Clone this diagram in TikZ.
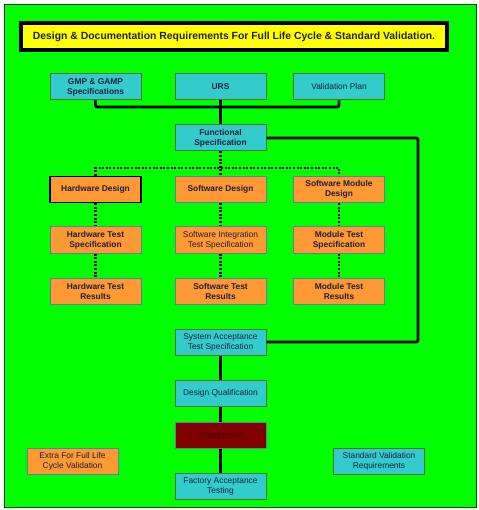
\documentclass[tikz,border=0pt]{standalone}
\usepackage{fontspec}
\setmainfont{Liberation Sans}
\definecolor{bggreen}{HTML}{00FF00}
\definecolor{cyanbox}{HTML}{33CCCC}
\definecolor{orangebox}{HTML}{FF9933}
\definecolor{cyanedge}{HTML}{5A6A2A}
\definecolor{orangeedge}{HTML}{5F7F9F}
\definecolor{txt}{HTML}{1E1E3C}
\definecolor{maroon}{HTML}{800000}
\definecolor{maroontxt}{HTML}{480000}
\definecolor{titleyellow}{HTML}{FFFF00}
\begin{document}
\begin{tikzpicture}[x=1pt,y=-1pt,
  box/.style={rectangle,minimum width=91pt,minimum height=26pt,inner sep=0pt,
    align=center,text=txt,line width=1pt,font=\fontsize{8.4}{10}\selectfont},
  cbox/.style={box,fill=cyanbox,draw=cyanedge},
  obox/.style={box,fill=orangebox,draw=orangeedge},
  bf/.style={font=\fontsize{8.4}{10}\selectfont\bfseries},
  solidline/.style={line width=2.8pt,black,rounded corners=2pt},
  dotline/.style={line width=2.6pt,black,dash pattern=on 2pt off 1.6pt}]
\useasboundingbox (0,0) rectangle (478,510);
\fill[white] (0,0) rectangle (478,510);
\draw[fill=bggreen,draw=black!70!green,line width=1pt] (4,5) rectangle (476,507);
% title
\node[draw=black,line width=4pt,fill=titleyellow,minimum width=426pt,minimum height=27pt,
  inner sep=0pt,text=txt,font=\fontsize{10.4}{12}\selectfont\bfseries] (title) at (234,36.5)
  {Design \& Documentation Requirements For Full Life Cycle \& Standard Validation.};
% row 1
\node[cbox,bf] (gmp) at (95.5,87) {GMP \& GAMP\\Specifications};
\node[cbox,bf] (urs) at (220.5,87) {URS};
\node[cbox] (vp) at (339,87) {Validation Plan};
\node[cbox,bf] (func) at (220.5,138) {Functional\\Specification};
% design row
\node[obox,bf,draw=black,line width=1.6pt] (hd) at (95.5,189.5) {Hardware Design};
\node[obox,bf] (sd) at (220.5,189.5) {Software Design};
\node[obox,bf] (smd) at (339,189.5) {Software Module\\Design};
% test spec row
\node[obox,bf] (hts) at (95.5,240) {Hardware Test\\Specification};
\node[obox] (sits) at (220.5,240) {Software Integration\\Test Specification};
\node[obox,bf] (mts) at (339,240) {Module Test\\Specification};
% results row
\node[obox,bf] (htr) at (95.5,291) {Hardware Test\\Results};
\node[obox,bf] (str) at (220.5,291) {Software Test\\Results};
\node[obox,bf] (mtr) at (339,291) {Module Test\\Results};
% lower column
\node[cbox] (sat) at (220.5,342) {System Acceptance\\Test Specification};
\node[cbox] (dq) at (220.5,393.5) {Design Qualification};
\node[box,fill=maroon,draw=orangeedge,text=maroontxt] (con) at (220.5,435.5) {Construction};
\node[cbox] (fat) at (220.5,486.5) {Factory Acceptance\\Testing};
% legend
\node[obox] (extra) at (72.5,461) {Extra For Full Life\\Cycle Validation};
\node[cbox] (std) at (379,461) {Standard Validation\\Requirements};
% connectors
\coordinate (busmid) at (220.5,107);
\coordinate (rc) at (418,240);
\coordinate (dbus) at (220.5,168);
\draw[solidline] (gmp.south) |- (busmid) -| (vp.south);
\draw[solidline] (urs) -- (func);
\draw[solidline] (func.east) -| (rc) |- (sat.east);
\draw[dotline] (func.south) -- (sd.north);
\draw[dotline] (hd.north) |- (dbus) -| (smd.north);
\draw[dotline] (hd) -- (hts);
\draw[dotline] (hts) -- (htr);
\draw[dotline] (sd) -- (sits);
\draw[dotline] (sits) -- (str);
\draw[dotline] (smd) -- (mts);
\draw[dotline] (mts) -- (mtr);
\draw[solidline] (sat) -- (dq);
\draw[solidline] (dq) -- (con);
\draw[solidline] (con) -- (fat);
\end{tikzpicture}
\end{document}
